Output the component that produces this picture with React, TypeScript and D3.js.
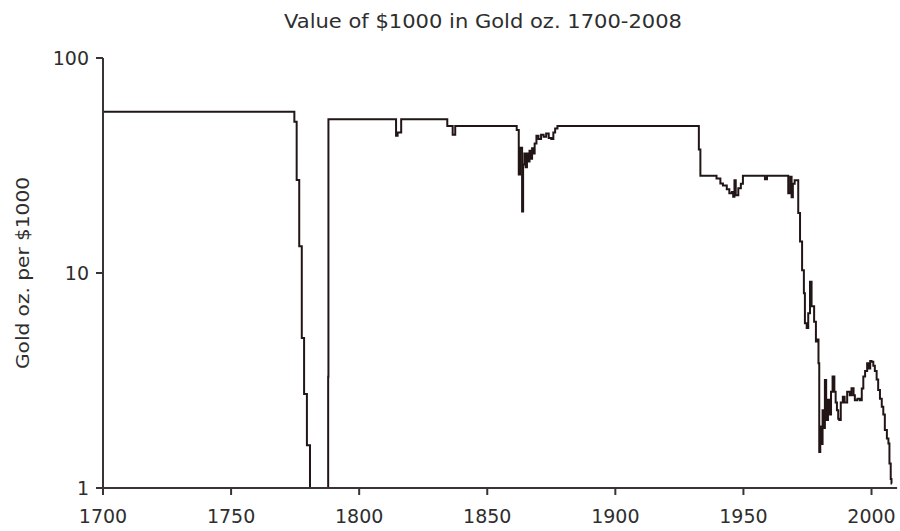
import React from "react";
import * as d3 from "d3";

const years: number[] = [
  1700, 1774.7, 1775.6, 1776.6, 1777.6, 1778.5, 1779.6, 1780.8, 1787.9, 1788.0,
  1814.4, 1815.0, 1816.4, 1834.4, 1836.5, 1837.5,
  1861.5, 1862.3, 1862.8, 1863.6, 1864.0, 1864.5, 1865.0, 1865.5, 1866.0, 1866.5,
  1867.0, 1867.5, 1868.0, 1868.5, 1869.2, 1870.0, 1871.0, 1872.0, 1873.0, 1874.0,
  1875.0, 1875.8, 1876.5, 1877.4,
  1932.6, 1933.2, 1939.5, 1941.0, 1942.0, 1943.5, 1944.5, 1945.5, 1946.0, 1946.5,
  1947.0, 1948.0, 1949.0, 1949.8, 1958.4, 1959.2,
  1967.5, 1968.3, 1968.8, 1969.3, 1970.0, 1971.4, 1972.1, 1972.9, 1973.6, 1974.0,
  1974.7, 1975.3, 1976.0, 1976.6, 1977.6, 1978.3, 1978.9, 1979.3, 1979.6, 1980.0,
  1980.5, 1980.9, 1981.4, 1981.8, 1982.3, 1983.0, 1983.6, 1984.2, 1984.8, 1985.5,
  1986.0, 1986.5, 1987.0, 1987.4, 1988.0, 1988.8, 1989.5, 1990.5, 1991.5, 1992.2,
  1993.0, 1993.5, 1994.5, 1995.5, 1996.2, 1996.8, 1997.5, 1998.3, 1999.0, 1999.5,
  2000.0, 2000.7, 2001.3, 2002.0, 2002.6, 2003.3, 2004.0, 2004.6, 2005.2, 2006.0,
  2006.6, 2007.0, 2007.5, 2007.8, 2008.0,
];

const ouncesPer1000: number[] = [
  56.2, 50.5, 27.1, 13.3, 4.98, 2.74, 1.58, 0.5, 3.29, 51.9,
  43.5, 45, 51.9, 48.3, 44, 48.3,
  46.2, 28.7, 38.2, 19.3, 32, 36, 31, 36, 33, 37,
  34, 38, 36, 40, 43.5, 42, 44, 43, 44.5, 42.5,
  42, 45, 47, 48.3,
  37.5, 28.3, 27.5, 26.1, 25.5, 24.5, 23.5, 23.8, 22.6, 27,
  23, 24.8, 26, 28.3, 27.3, 28.3,
  23.5, 28, 22.5, 26, 27, 19, 14, 10.3, 8.05, 5.84,
  5.55, 6.5, 9.1, 7.0, 5.94, 4.8, 4.9, 3.8, 1.47, 1.93,
  1.6, 2.3, 1.9, 3.18, 2.07, 2.57, 2.2, 2.8, 3.3, 2.8,
  2.5, 2.3, 2.1, 2.07, 2.5, 2.66, 2.5, 2.8, 2.7, 2.91,
  2.7, 2.56, 2.6, 2.56, 2.9, 3.3, 3.5, 3.8, 3.6, 3.9,
  3.87, 3.7, 3.5, 3.2, 2.86, 2.6, 2.39, 2.2, 1.86, 1.7,
  1.61, 1.3, 1.1, 1.05, 1.05,
];

const xTicks: number[] = [1700, 1750, 1800, 1850, 1900, 1950, 2000];
const yTicks: number[] = [1, 10, 100];
const title = "Value of $1000 in Gold oz. 1700-2008";
const yLabel = "Gold oz. per $1000";

export default function App() {
  const W = 900;
  const H = 531;
  const left = 103;
  const top = 58;
  const bottom = 488;
  const x = d3.scaleLinear().domain([1700, 2010]).range([left, left + 310 * 2.5617]);
  const y = d3.scaleLog().domain([1, 100]).range([bottom, top]);
  const data = years.map((yr, i) => ({ yr, v: ouncesPer1000[i] }));
  const line = d3
    .line<{ yr: number; v: number }>()
    .x((d) => x(d.yr))
    .y((d) => y(Math.max(d.v, 0.05)))
    .curve(d3.curveStepAfter);
  const font = "'DejaVu Sans', Verdana, sans-serif";
  const axisColor = "#3a3333";
  const textColor = "#2e2e2e";
  const xEnd = x(2010);
  return (
    <svg
      width={W}
      height={H}
      style={{ position: "absolute", left: 0, top: 0, background: "#fff" }}
    >
      <defs>
        <clipPath id="plot">
          <rect x={left} y={top - 2} width={xEnd - left} height={bottom - top + 2} />
        </clipPath>
      </defs>
      <text
        x={483}
        y={28}
        textAnchor="middle"
        fontFamily={font}
        fontSize={19}
        fill={textColor}
        textLength={398}
        lengthAdjust="spacingAndGlyphs"
      >
        {title}
      </text>
      <text
        transform={`translate(29, ${273}) rotate(-90)`}
        textAnchor="middle"
        fontFamily={font}
        fontSize={17}
        fill={textColor}
        textLength={192}
        lengthAdjust="spacingAndGlyphs"
      >
        {yLabel}
      </text>
      <path
        d={line(data) || ""}
        fill="none"
        stroke="#221515"
        strokeWidth={2}
        clipPath="url(#plot)"
      />
      <line x1={left} x2={left} y1={top} y2={bottom} stroke={axisColor} strokeWidth={2} />
      <line x1={left - 6} x2={xEnd} y1={bottom} y2={bottom} stroke={axisColor} strokeWidth={2} />
      {yTicks.map((t) => (
        <g key={t}>
          <line x1={left - 7} x2={left} y1={y(t)} y2={y(t)} stroke={axisColor} strokeWidth={2} />
          <text
            x={left - 14}
            y={y(t)}
            dy="0.36em"
            textAnchor="end"
            fontFamily={font}
            fontSize={19}
            fill={textColor}
          >
            {t}
          </text>
        </g>
      ))}
      {xTicks.map((t) => (
        <g key={t}>
          <line x1={x(t)} x2={x(t)} y1={bottom} y2={bottom + 7} stroke={axisColor} strokeWidth={2} />
          <text
            x={x(t)}
            y={bottom + 35}
            textAnchor="middle"
            fontFamily={font}
            fontSize={19}
            fill={textColor}
          >
            {t}
          </text>
        </g>
      ))}
    </svg>
  );
}
